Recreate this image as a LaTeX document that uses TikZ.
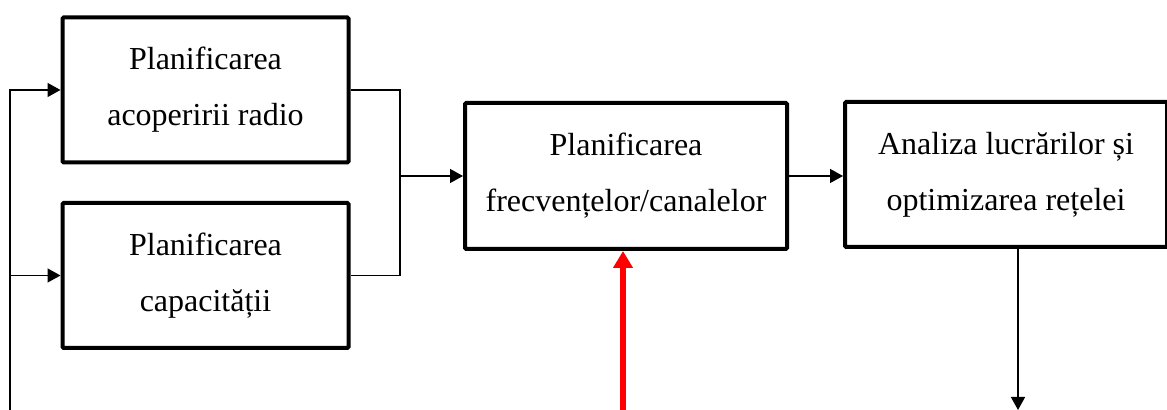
\documentclass[tikz,border=0pt]{standalone}
\usepackage{fontspec}
\setmainfont{Liberation Serif}
\usepackage{tikz}
\usetikzlibrary{arrows.meta}

\begin{document}
\begin{tikzpicture}[x=0.5pt, y=-0.5pt,
  block/.style={draw, line width=2pt, rounded corners=0.6pt, align=center,
    font=\fontsize{16}{28}\selectfont},
  conn/.style={line width=0.7pt},
  arr/.style={conn, -{Triangle[length=6.5pt, width=7pt]}},
  redarr/.style={draw=red, line width=3pt, -{Triangle[length=8.5pt, width=9.5pt]}}]

\useasboundingbox (0,0) rectangle (1167,410);

\node[block, minimum width=143pt, minimum height=72.5pt] (b1) at (205.5,90) {Planificarea\\acoperirii radio};
\node[block, minimum width=143pt, minimum height=72.5pt] (b2) at (205.5,275.5) {Planificarea\\capacității};
\node[block, minimum width=161pt, minimum height=73pt] (b3) at (626,176) {Planificarea\\frecvențelor/canalelor};
\node[block, minimum width=161pt, minimum height=72.5pt] (b4) at (1006,174.5) {Analiza lucrărilor și\\optimizarea rețelei};

\coordinate (lbot) at (10,412);
\coordinate (join) at (400,176);
\coordinate (out) at (1018,410);
\coordinate (red) at (623,412);

\draw[arr] (lbot) |- (b1.west);
\draw[arr] (lbot |- b2.west) -- (b2.west);
\draw[conn] (b1.east) -| (join) |- (b2.east);
\draw[arr] (join) -- (b3.west);
\draw[arr] (b3.east) -- (b3.east -| b4.west);
\draw[arr] (out |- b4.south) -- (out);
\draw[redarr] (red) -- (red |- b3.south);

\end{tikzpicture}
\end{document}
